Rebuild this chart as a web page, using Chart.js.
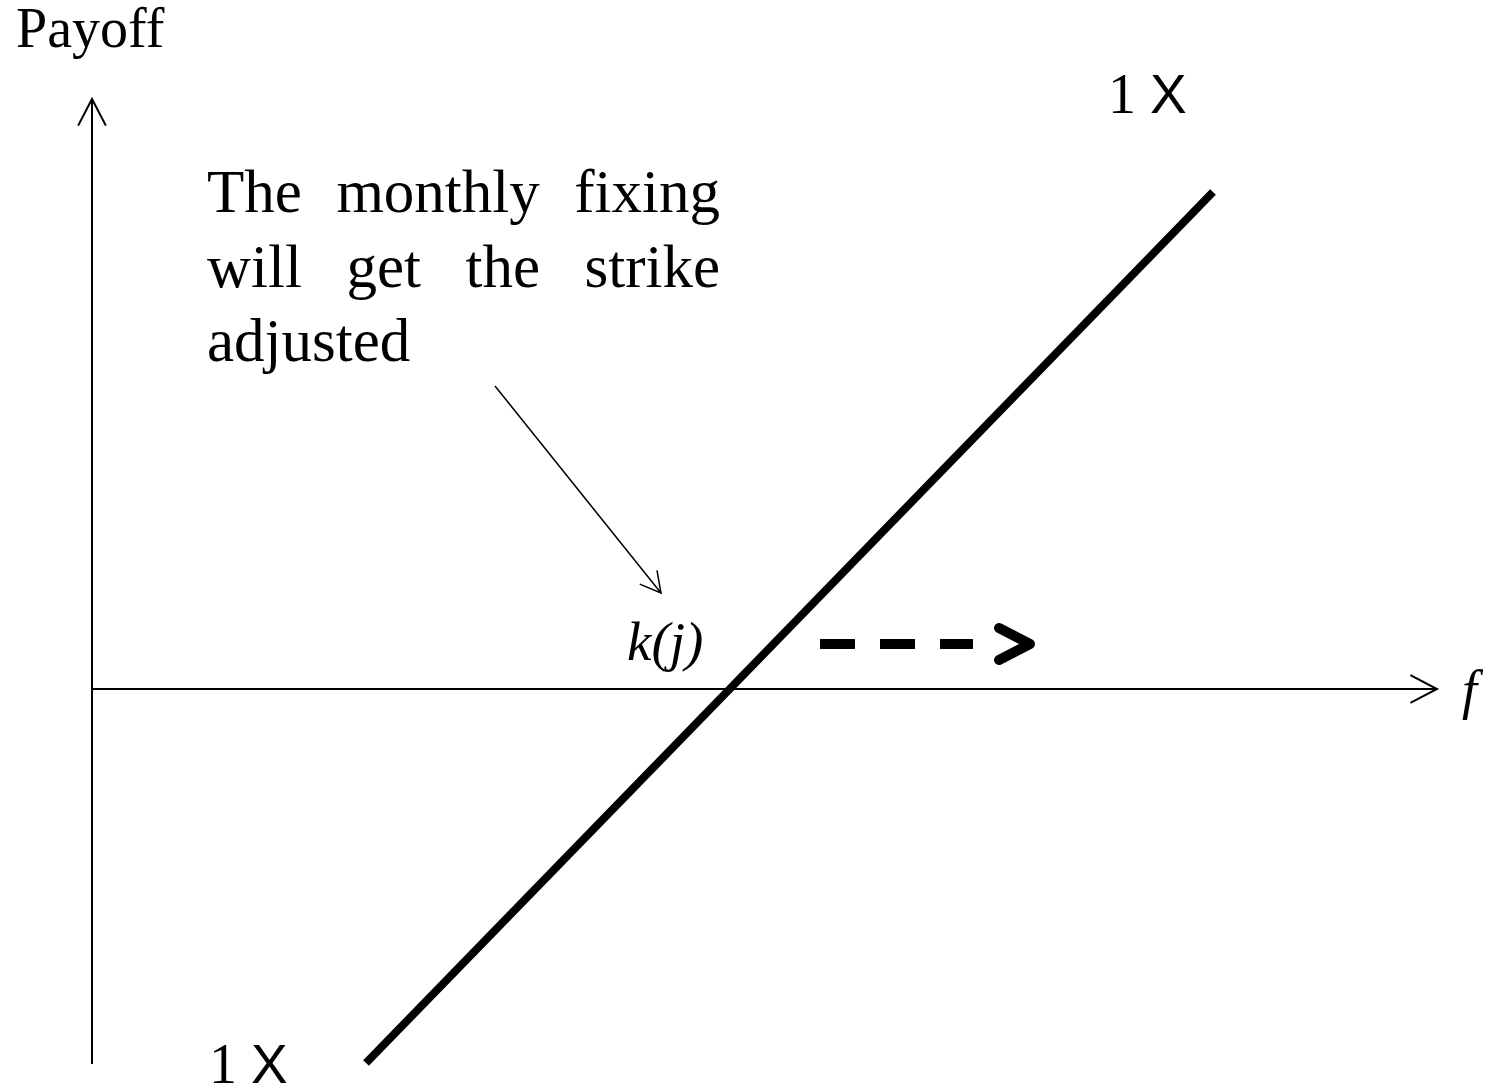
<!DOCTYPE html>
<html lang="en">
<head>
    <meta charset="UTF-8">
    <title>Payoff: strike adjusted at monthly fixing</title>
    <script src="https://cdn.jsdelivr.net/npm/chart.js"></script>
    <style>
        body { margin: 0; background: #fff; }
        canvas { display: block; }
    </style>
</head>
<body>
    <canvas id="payoffCanvas" width="1488" height="1090"></canvas>

    <script>
        // Diagram data (units: f along x, payoff along y, origin where the axes cross)
        const payoffF = [2.74, 11.21];
        const payoffValue = [-3.74, 4.97];

        const xAxisF = [0, 13.45];
        const xAxisValue = [0, 0];
        const yAxisF = [0, 0];
        const yAxisValue = [-3.75, 5.90];

        const noteArrowF = [4.03, 5.69];
        const noteArrowValue = [3.03, 0.96];

        const shiftF = [7.28, 8.81];
        const shiftValue = [0.45, 0.45];
        const shiftHeadF = [9.07, 9.38, 9.07];
        const shiftHeadValue = [0.61, 0.45, 0.29];

        // Labels
        const yTitle = 'Payoff';
        const xTitle = 'f';
        const strikeLabel = 'k(j)';
        const notionalLabel = ['1', 'X'];
        const noteLines = ['The monthly fixing', 'will get the strike', 'adjusted'];

        const toPoints = (xs, ys) => xs.map((x, i) => ({ x, y: ys[i] }));

        const serif = '"Liberation Serif", "Times New Roman", serif';
        const sans = '"Liberation Sans", Arial, sans-serif';

        // text placement (data units)
        const texts = [
            { text: yTitle, x: -0.76, y: 6.42, font: `56px ${serif}` },
            { text: strikeLabel, x: 5.35, y: 0.29, font: `italic 55px ${serif}` },
            { text: xTitle, x: 13.70, y: -0.19, font: `italic 54px ${serif}` },
        ];
        const notionalSpots = [{ x: 10.16, y: 5.76 }, { x: 1.17, y: -3.94 }];
        const note = { left: 1.15, right: 6.28, top: 4.77, step: 0.745, font: `61px ${serif}` };

        // open arrow heads at the last point of a dataset
        const arrowHeads = {
            id: 'arrowHeads',
            afterDatasetsDraw(chart) {
                const ctx = chart.ctx;
                chart.data.datasets.forEach((ds, i) => {
                    if (!ds.arrow) return;
                    const pts = chart.getDatasetMeta(i).data;
                    const a = pts[pts.length - 2], b = pts[pts.length - 1];
                    const ang = Math.atan2(b.y - a.y, b.x - a.x);
                    const { length, spread, width } = ds.arrow;
                    ctx.save();
                    ctx.strokeStyle = ds.borderColor;
                    ctx.lineWidth = width;
                    ctx.beginPath();
                    ctx.moveTo(b.x - length * Math.cos(ang - spread), b.y - length * Math.sin(ang - spread));
                    ctx.lineTo(b.x, b.y);
                    ctx.lineTo(b.x - length * Math.cos(ang + spread), b.y - length * Math.sin(ang + spread));
                    ctx.stroke();
                    ctx.restore();
                });
            }
        };

        const labels = {
            id: 'labels',
            afterDraw(chart) {
                const { ctx, scales: { x, y } } = chart;
                ctx.save();
                ctx.fillStyle = '#000';
                ctx.textBaseline = 'alphabetic';
                ctx.textAlign = 'left';

                texts.forEach(t => {
                    ctx.font = t.font;
                    ctx.fillText(t.text, x.getPixelForValue(t.x), y.getPixelForValue(t.y));
                });

                notionalSpots.forEach(s => {
                    const px = x.getPixelForValue(s.x), py = y.getPixelForValue(s.y);
                    ctx.font = `56px ${serif}`;
                    ctx.fillText(notionalLabel[0], px, py);
                    const w = ctx.measureText(notionalLabel[0] + ' ').width;
                    ctx.font = `55px ${sans}`;
                    ctx.fillText(notionalLabel[1], px + w, py);
                });

                // justified paragraph, last line left aligned
                ctx.font = note.font;
                const left = x.getPixelForValue(note.left), right = x.getPixelForValue(note.right);
                noteLines.forEach((line, i) => {
                    const py = y.getPixelForValue(note.top - i * note.step);
                    const words = line.split(' ');
                    if (i === noteLines.length - 1 || words.length < 2) {
                        ctx.fillText(line, left, py);
                        return;
                    }
                    const widths = words.map(w => ctx.measureText(w).width);
                    const gap = (right - left - widths.reduce((s, w) => s + w, 0)) / (words.length - 1);
                    let px = left;
                    words.forEach((w, k) => {
                        ctx.fillText(w, px, py);
                        px += widths[k] + gap;
                    });
                });
                ctx.restore();
            }
        };

        const line = (xs, ys, extra) => Object.assign({
            data: toPoints(xs, ys),
            showLine: true,
            borderColor: '#000',
            pointRadius: 0,
            fill: false,
            tension: 0,
        }, extra);

        const config = {
            type: 'scatter',
            data: {
                datasets: [
                    line(xAxisF, xAxisValue, { borderWidth: 2, arrow: { length: 30, spread: 0.48, width: 2 } }),
                    line(yAxisF, yAxisValue, { borderWidth: 2, arrow: { length: 30, spread: 0.48, width: 2 } }),
                    line(noteArrowF, noteArrowValue, { borderWidth: 1.5, arrow: { length: 23, spread: 0.5, width: 1.5 } }),
                    line(payoffF, payoffValue, { borderWidth: 8, borderCapStyle: 'butt' }),
                    line(shiftF, shiftValue, { borderWidth: 10, borderDash: [35, 25], borderCapStyle: 'butt' }),
                    line(shiftHeadF, shiftHeadValue, { borderWidth: 10, borderCapStyle: 'round', borderJoinStyle: 'round' }),
                ],
            },
            options: {
                responsive: false,
                animation: false,
                layout: { padding: 0 },
                plugins: {
                    legend: { display: false },
                    tooltip: { enabled: false },
                },
                scales: {
                    x: { type: 'linear', min: -0.92, max: 13.96, display: false },
                    y: { type: 'linear', min: -4.01, max: 6.89, display: false },
                },
            },
            plugins: [arrowHeads, labels],
        };

        new Chart(document.getElementById('payoffCanvas'), config);
    </script>
</body>
</html>
